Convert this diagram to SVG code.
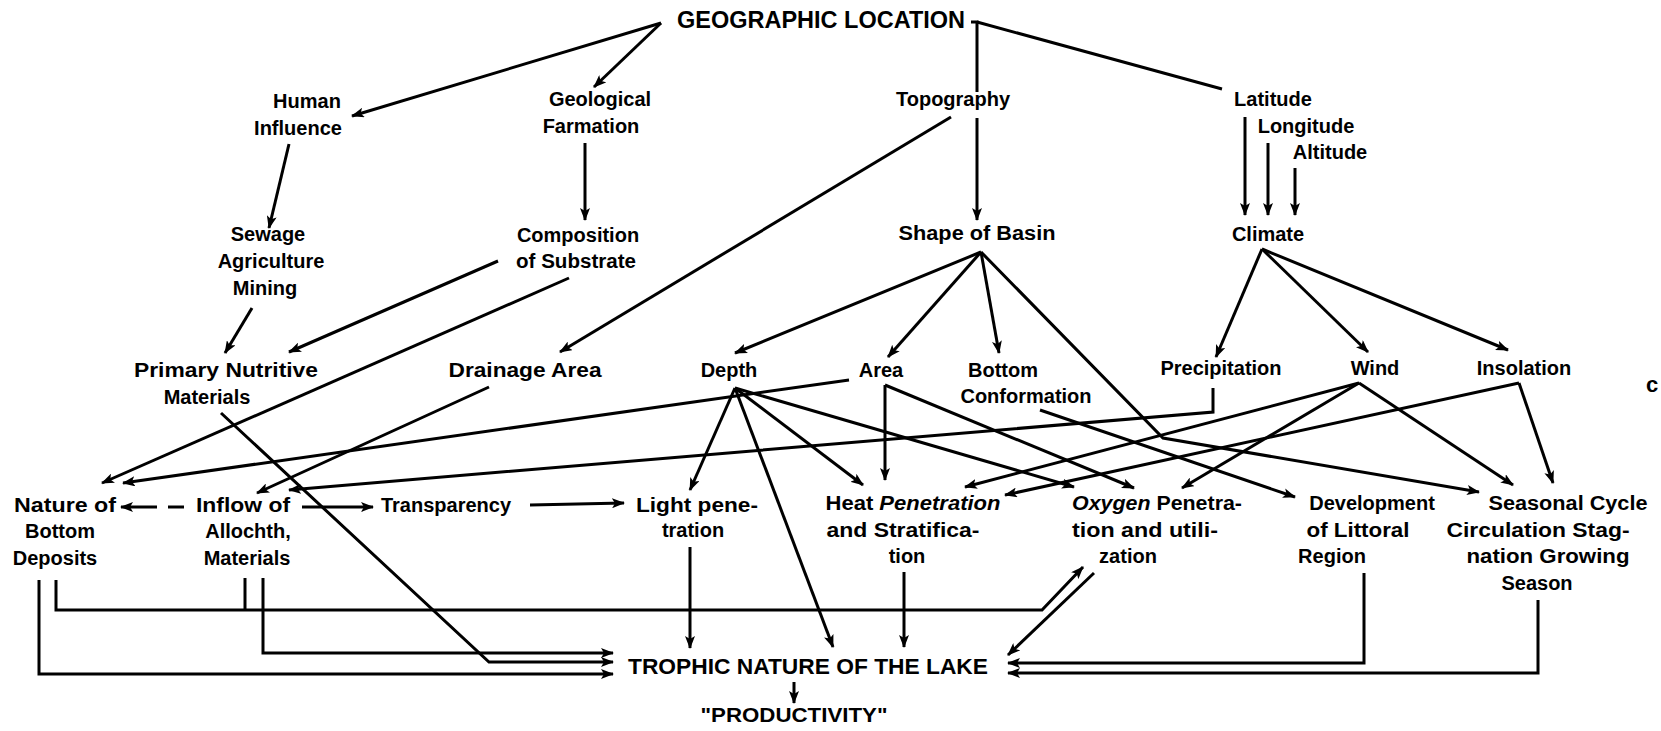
<svg xmlns="http://www.w3.org/2000/svg" width="1661" height="731" viewBox="0 0 1661 731">
<defs>
<style>
.t{font-family:"Liberation Sans",Arial,sans-serif;font-weight:bold;font-size:20px;text-anchor:middle;fill:#000}
.big{font-size:23px}
.c{stroke:#000;stroke-width:3;fill:none;stroke-linejoin:miter}
.a{marker-end:url(#ah)}
</style>
<marker id="ah" viewBox="0 0 13 10" refX="12" refY="5" markerWidth="13" markerHeight="10" markerUnits="userSpaceOnUse" orient="auto">
<path d="M0,0 L13,5 L0,10 L3,5 z" fill="#000"/>
</marker>
</defs>
<rect width="1661" height="731" fill="#fff"/>
<g id="connectors">
<path class="c a" d="M661,23 L352,116"/>
<path class="c a" d="M661,23 L594,87"/>
<path class="c" d="M971,22 L977,22 L977,92"/>
<path class="c" d="M977,22 L1222,89"/>
<path class="c a" d="M977,118 L977,220"/>
<path class="c a" d="M951,117 L560,352"/>
<path class="c a" d="M289,144 L269,228"/>
<path class="c a" d="M585,143 L585,220"/>
<path class="c a" d="M252,308 L225,353"/>
<path class="c a" d="M498,261 L289,352"/>
<path class="c a" d="M569,278 L102,483"/>
<path class="c a" d="M1245,117 L1245,215"/>
<path class="c a" d="M1268,143 L1268,215"/>
<path class="c a" d="M1295,168 L1295,215"/>
<path class="c a" d="M981,252 L735,353"/>
<path class="c a" d="M981,252 L888,357"/>
<path class="c a" d="M981,252 L999,353"/>
<path class="c a" d="M981,252 L1163,438 L1479,492"/>
<path class="c a" d="M1262,249 L1216,357"/>
<path class="c a" d="M1262,249 L1368,352"/>
<path class="c a" d="M1262,249 L1508,350"/>
<path class="c a" d="M489,387 L257,493"/>
<path class="c a" d="M849,380 L123,483"/>
<path class="c a" d="M1213,388 L1213,412 L289,490"/>
<path class="c a" d="M221,413 L489,662 L613,662"/>
<path class="c a" d="M735,388 L690,490"/>
<path class="c a" d="M735,388 L833,647"/>
<path class="c a" d="M735,388 L863,485"/>
<path class="c a" d="M735,388 L1074,487"/>
<path class="c a" d="M885,385 L885,480"/>
<path class="c a" d="M885,385 L1134,488"/>
<path class="c a" d="M1040,410 L1295,497"/>
<path class="c a" d="M1359,383 L965,487"/>
<path class="c a" d="M1359,383 L1182,488"/>
<path class="c a" d="M1359,383 L1513,485"/>
<path class="c a" d="M1519,383 L1005,495"/>
<path class="c a" d="M1519,383 L1553,483"/>
<path class="c" d="M184,507 L168,507"/>
<path class="c a" d="M157,507 L121,507"/>
<path class="c a" d="M302,507 L373,507"/>
<path class="c a" d="M530,505 L624,503"/>
<path class="c a" d="M690,547 L690,648"/>
<path class="c a" d="M904,572 L904,647"/>
<path class="c a" d="M39,580 L39,674 L613,674"/>
<path class="c a" d="M56,580 L56,610 L1042,610 L1083,567"/>
<path class="c" d="M245,578 L245,610"/>
<path class="c a" d="M263,578 L263,653 L613,653"/>
<path class="c a" d="M1094,573 L1008,655"/>
<path class="c a" d="M1364,573 L1364,663 L1008,663"/>
<path class="c a" d="M1538,600 L1538,673 L1008,673"/>
<path class="c a" d="M794,682 L794,703"/>
</g>
<g id="geographic-location"><text class="t big" x="821" y="28" textLength="288" lengthAdjust="spacingAndGlyphs">GEOGRAPHIC LOCATION</text></g>
<g id="human-influence"><text class="t" x="307" y="108">Human</text><text class="t" x="298" y="135">Influence</text></g>
<g id="geological-formation"><text class="t" x="600" y="106">Geological</text><text class="t" x="591" y="133">Farmation</text></g>
<g id="topography"><text class="t" x="953" y="106">Topography</text></g>
<g id="latitude"><text class="t" x="1273" y="106">Latitude</text></g>
<g id="longitude"><text class="t" x="1306" y="133">Longitude</text></g>
<g id="altitude"><text class="t" x="1330" y="159">Altitude</text></g>
<g id="sewage"><text class="t" x="268" y="241">Sewage</text><text class="t" x="271" y="268">Agriculture</text><text class="t" x="265" y="295">Mining</text></g>
<g id="composition"><text class="t" x="578" y="242">Composition</text><text class="t" x="576" y="268" textLength="120" lengthAdjust="spacingAndGlyphs">of Substrate</text></g>
<g id="shape-of-basin"><text class="t" x="977" y="240" textLength="157" lengthAdjust="spacingAndGlyphs">Shape of Basin</text></g>
<g id="climate"><text class="t" x="1268" y="241">Climate</text></g>
<g id="primary-nutritive"><text class="t" x="226" y="377" textLength="184" lengthAdjust="spacingAndGlyphs">Primary Nutritive</text><text class="t" x="207" y="404">Materials</text></g>
<g id="drainage-area"><text class="t" x="525" y="377" textLength="153" lengthAdjust="spacingAndGlyphs">Drainage Area</text></g>
<g id="depth"><text class="t" x="729" y="377">Depth</text></g>
<g id="area"><text class="t" x="881" y="377">Area</text></g>
<g id="bottom-conformation"><text class="t" x="1003" y="377">Bottom</text><text class="t" x="1026" y="403">Conformation</text></g>
<g id="precipitation"><text class="t" x="1221" y="375">Precipitation</text></g>
<g id="wind"><text class="t" x="1375" y="375">Wind</text></g>
<g id="insolation"><text class="t" x="1524" y="375">Insolation</text></g>
<g id="edge-c"><text class="t" x="1652" y="392" style="font-size:22px">c</text></g>
<g id="nature-bottom"><text class="t" x="65" y="512" textLength="102" lengthAdjust="spacingAndGlyphs">Nature of</text><text class="t" x="60" y="538">Bottom</text><text class="t" x="55" y="565">Deposits</text></g>
<g id="inflow"><text class="t" x="243" y="512" textLength="94" lengthAdjust="spacingAndGlyphs">Inflow of</text><text class="t" x="248" y="538">Allochth,</text><text class="t" x="247" y="565">Materials</text></g>
<g id="transparency"><text class="t" x="446" y="512">Transparency</text></g>
<g id="light"><text class="t" x="697" y="512" textLength="122" lengthAdjust="spacingAndGlyphs">Light pene-</text><text class="t" x="693" y="537">tration</text></g>
<g id="heat"><text class="t" x="913" y="510" textLength="175" lengthAdjust="spacingAndGlyphs">Heat <tspan font-style="italic">Penetration</tspan></text><text class="t" x="903" y="537" textLength="153" lengthAdjust="spacingAndGlyphs">and Stratifica-</text><text class="t" x="907" y="563">tion</text></g>
<g id="oxygen"><text class="t" x="1157" y="510" textLength="170" lengthAdjust="spacingAndGlyphs"><tspan font-style="italic">Oxygen</tspan> Penetra-</text><text class="t" x="1145" y="537" textLength="146" lengthAdjust="spacingAndGlyphs">tion and utili-</text><text class="t" x="1128" y="563">zation</text></g>
<g id="development"><text class="t" x="1372" y="510">Development</text><text class="t" x="1358" y="537" textLength="103" lengthAdjust="spacingAndGlyphs">of Littoral</text><text class="t" x="1332" y="563">Region</text></g>
<g id="seasonal"><text class="t" x="1568" y="510" textLength="159" lengthAdjust="spacingAndGlyphs">Seasonal Cycle</text><text class="t" x="1538" y="537" textLength="183" lengthAdjust="spacingAndGlyphs">Circulation Stag-</text><text class="t" x="1548" y="563" textLength="163" lengthAdjust="spacingAndGlyphs">nation Growing</text><text class="t" x="1537" y="590">Season</text></g>
<g id="trophic"><text class="t" x="808" y="674" style="font-size:22px" textLength="360" lengthAdjust="spacingAndGlyphs">TROPHIC NATURE OF THE LAKE</text></g>
<g id="productivity"><text class="t" x="794" y="722" style="font-size:21px" textLength="187" lengthAdjust="spacingAndGlyphs">"PRODUCTIVITY"</text></g>
</svg>
